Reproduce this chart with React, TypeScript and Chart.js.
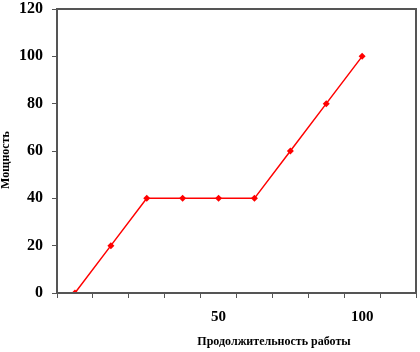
import React, { useEffect, useRef } from "react";
import { Chart, registerables } from "chart.js";

Chart.register(...registerables);

const categories = ["", "", "", "", "50", "", "", "", "100", ""];
const power = [0, 20, 40, 40, 40, 40, 60, 80, 100, null];
const yTitle = "Мощность";
const xTitle = "Продолжительность работы";

const FONT = "'Liberation Serif', 'Times New Roman', serif";

const framePlugin = {
  id: "frame",
  afterDraw(chart: any) {
    const { ctx, chartArea } = chart;
    ctx.save();
    ctx.strokeStyle = "#555555";
    ctx.lineWidth = 2;
    ctx.strokeRect(chartArea.left, chartArea.top, chartArea.right - chartArea.left, chartArea.bottom - chartArea.top);
    ctx.fillStyle = "#000000";
    ctx.font = `bold 12px ${FONT}`;
    ctx.textAlign = "center";
    ctx.textBaseline = "middle";
    ctx.fillText(xTitle, 274, 342);
    ctx.translate(6, 160);
    ctx.rotate(-Math.PI / 2);
    ctx.fillText(yTitle, 0, 0);
    ctx.restore();
  },
};

export default function App() {
  const ref = useRef<HTMLCanvasElement>(null);
  useEffect(() => {
    if (!ref.current) return;
    const chart = new Chart(ref.current, {
      type: "line",
      data: {
        labels: categories,
        datasets: [
          {
            data: power,
            borderColor: "#ff0000",
            backgroundColor: "#ff0000",
            borderWidth: 1.5,
            pointStyle: "rectRot",
            pointRadius: 3.5,
            pointBorderWidth: 0,
            spanGaps: false,
          },
        ],
      },
      options: {
        animation: false,
        responsive: false,
        maintainAspectRatio: false,
        layout: { padding: { top: 9, right: 4, left: 0, bottom: 0 } },
        plugins: { legend: { display: false }, tooltip: { enabled: false } },
        scales: {
          x: {
            type: "category",
            offset: true,
            grid: {
              offset: true,
              drawOnChartArea: false,
              drawTicks: true,
              tickLength: 5,
              color: "#555555",
              lineWidth: 1,
            },
            border: { display: false },
            ticks: {
              autoSkip: false,
              maxRotation: 0,
              padding: 10,
              color: "#000000",
              font: { family: FONT, size: 15, weight: "bold" },
            },
            afterFit(scale: any) {
              scale.height = 59;
              scale.paddingLeft = 0;
              scale.paddingRight = 0;
            },
          },
          y: {
            min: 0,
            max: 120,
            grid: {
              drawOnChartArea: false,
              drawTicks: true,
              tickLength: 5,
              color: "#555555",
            },
            border: { display: false },
            ticks: {
              stepSize: 20,
              padding: 9,
              color: "#000000",
              font: { family: FONT, size: 16, weight: "bold" },
            },
            afterFit(scale: any) {
              scale.width = 57;
              scale.paddingTop = 0;
              scale.paddingBottom = 0;
            },
          },
        },
      },
      plugins: [framePlugin],
    });
    return () => chart.destroy();
  }, []);
  return (
    <div style={{ position: "fixed", left: 0, top: 0, width: 420, height: 352, background: "#fff" }}>
      <canvas ref={ref} width={420} height={352} style={{ display: "block" }} />
    </div>
  );
}
